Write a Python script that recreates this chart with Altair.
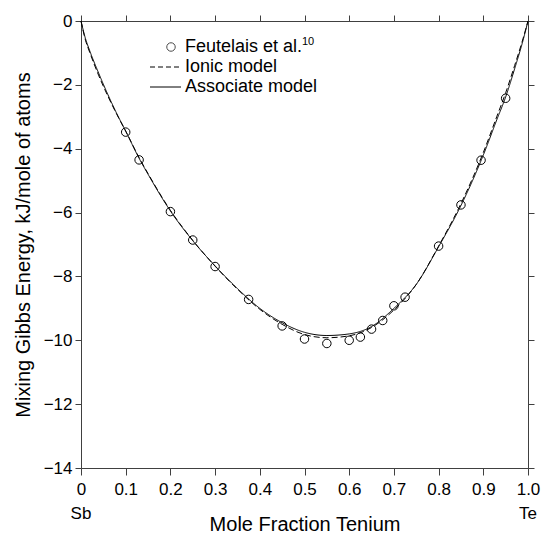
import altair as alt
import pandas as pd

# ---- data ----
model_x = [0, 0.01, 0.02, 0.04, 0.06, 0.08, 0.10, 0.13, 0.15, 0.20, 0.25, 0.30, 0.35,
           0.40, 0.45, 0.50, 0.55, 0.60, 0.65, 0.70, 0.75, 0.80, 0.85, 0.90, 0.93,
           0.95, 0.97, 0.99, 1.0]
associate_y = [0, -0.55, -0.95, -1.65, -2.3, -2.9, -3.45, -4.3, -4.8, -5.95, -6.88, -7.67,
               -8.38, -9.0, -9.45, -9.75, -9.85, -9.8, -9.57, -9.0, -8.25, -7.07, -5.78,
               -4.2, -3.1, -2.38, -1.5, -0.55, 0]
ionic_y = [0, -0.6, -1.0, -1.72, -2.35, -2.92, -3.45, -4.28, -4.78, -5.93, -6.87, -7.68,
           -8.4, -9.03, -9.5, -9.82, -9.92, -9.86, -9.6, -9.05, -8.25, -7.05, -5.72,
           -4.12, -3.0, -2.25, -1.4, -0.5, 0]

exp_x = [0.10, 0.13, 0.20, 0.25, 0.30, 0.375, 0.45, 0.50, 0.55, 0.60, 0.625, 0.65,
         0.675, 0.70, 0.725, 0.80, 0.85, 0.895, 0.95]
exp_y = [-3.48, -4.35, -5.97, -6.86, -7.69, -8.72, -9.55, -9.96, -10.1, -10.0, -9.9,
         -9.65, -9.38, -8.92, -8.65, -7.05, -5.76, -4.36, -2.42]

x_ticks = [0, 0.1, 0.2, 0.3, 0.4, 0.5, 0.6, 0.7, 0.8, 0.9, 1.0]
y_ticks = [0, -2, -4, -6, -8, -10, -12, -14]

legend_labels = ["Feutelais et al.", "Ionic model", "Associate model"]
legend_sup = "10"
end_labels = ["Sb", "Te"]

# ---- tables ----
models = pd.concat([
    pd.DataFrame({"x": model_x, "y": ionic_y, "model": "Ionic model"}),
    pd.DataFrame({"x": model_x, "y": associate_y, "model": "Associate model"}),
])
exp = pd.DataFrame({"x": exp_x, "y": exp_y})

W, H = 447, 447
FONT = "Liberation Sans"
AX = "#404040"

xscale = alt.Scale(domain=[0, 1], nice=False, zero=False)
yscale = alt.Scale(domain=[-14, 0], nice=False, zero=False)

x_axis = alt.Axis(values=x_ticks, title="Mole Fraction Tenium",
                  labelExpr="datum.value == 0 ? '0' : format(datum.value, '.1f')",
                  grid=False, tickSize=7, labelPadding=6, titlePadding=17,
                  labelFontSize=17, titleFontSize=20, labelFont=FONT, titleFont=FONT,
                  titleFontWeight="normal", labelColor="black", titleColor="black",
                  domainColor=AX, tickColor=AX, labelFlush=False)
y_axis = alt.Axis(values=y_ticks, title="Mixing Gibbs Energy, kJ/mole of atoms",
                  format="d", grid=False, tickSize=6, labelPadding=3, titlePadding=10,
                  labelFontSize=17, titleFontSize=20, labelFont=FONT, titleFont=FONT,
                  titleFontWeight="normal", labelColor="black", titleColor="black",
                  domainColor=AX, tickColor=AX, labelFlush=False)
x_top = alt.Axis(orient="top", values=x_ticks, labels=False, title=None, grid=False,
                 tickSize=6, domainColor=AX, tickColor=AX)
y_right = alt.Axis(orient="right", values=y_ticks, labels=False, title=None, grid=False,
                   tickSize=6, domainColor=AX, tickColor=AX)

lines = alt.Chart(models).mark_line(color="black", strokeWidth=1, interpolate="monotone").encode(
    x=alt.X("x:Q", scale=xscale, axis=x_axis),
    y=alt.Y("y:Q", scale=yscale, axis=y_axis),
    strokeDash=alt.StrokeDash("model:N", scale=alt.Scale(
        domain=["Ionic model", "Associate model"], range=[[6, 3], [1, 0]]), legend=None),
    detail="model:N",
)

points = alt.Chart(exp).mark_point(shape="circle", filled=False, color="black",
                                   size=72, strokeWidth=1, opacity=1).encode(
    x=alt.X("x:Q", scale=xscale, axis=x_top),
    y=alt.Y("y:Q", scale=yscale, axis=y_right),
)

# end labels Sb / Te under the axis
ends = alt.Chart(pd.DataFrame({"x": [0, 1.0], "t": end_labels})).mark_text(
    fontSize=17, font=FONT, color="black", baseline="middle", align="center"
).encode(x=alt.X("x:Q", scale=xscale, axis=None), y=alt.value(H + 46), text="t:N")

# manual legend
one = pd.DataFrame({"a": [0]})
lg_point = alt.Chart(one).mark_point(
    shape="circle", filled=False, color="black", size=72, strokeWidth=1
).encode(x=alt.value(90), y=alt.value(26))
lg_dash = alt.Chart(one).mark_rule(color="black", strokeWidth=1, strokeDash=[5, 3]).encode(
    x=alt.value(69), x2=alt.value(100), y=alt.value(46))
lg_solid = alt.Chart(one).mark_rule(color="black", strokeWidth=1).encode(
    x=alt.value(69), x2=alt.value(100), y=alt.value(66))


def lg_text(label, ypos):
    return alt.Chart(pd.DataFrame({"t": [label]})).mark_text(
        fontSize=18, font=FONT, color="black", align="left", baseline="middle"
    ).encode(x=alt.value(104), y=alt.value(ypos), text="t:N")


lg_sup = alt.Chart(pd.DataFrame({"t": [legend_sup]})).mark_text(
    fontSize=11, font=FONT, color="black", align="left", baseline="middle"
).encode(x=alt.value(221), y=alt.value(21), text="t:N")

chart = alt.layer(
    lines, points, ends, lg_point, lg_dash, lg_solid,
    lg_text(legend_labels[0], 26), lg_text(legend_labels[1], 46), lg_text(legend_labels[2], 66),
    lg_sup,
).resolve_axis(x="independent", y="independent").properties(
    width=W, height=H,
    autosize=alt.AutoSizeParams(type="none"),
    padding={"left": 81, "top": 21, "right": 14, "bottom": 67},
).configure_view(stroke=None).configure(background="white")

chart.save("out.html", embed_options={"renderer": "svg", "actions": False})
